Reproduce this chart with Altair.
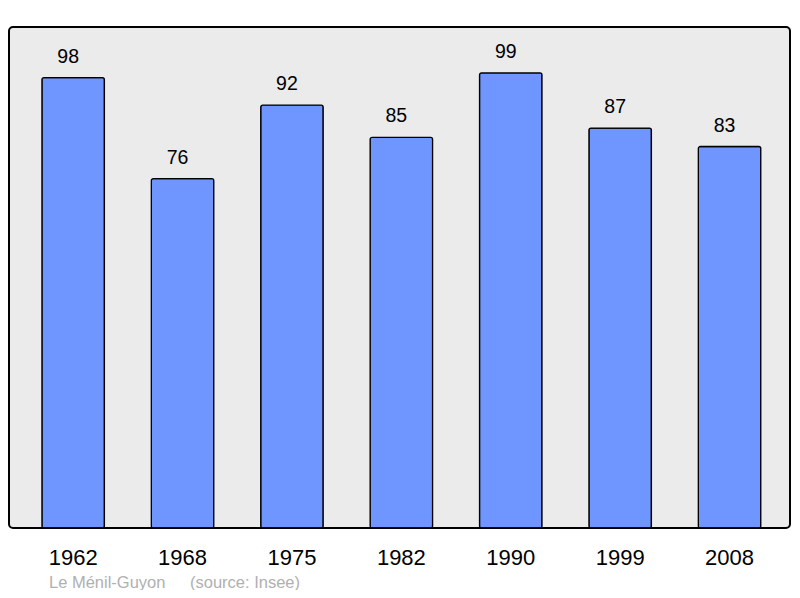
import altair as alt
import pandas as pd

years = ["1962", "1968", "1975", "1982", "1990", "1999", "2008"]
population = [98, 76, 92, 85, 99, 87, 83]
place = "Le Ménil-Guyon"
source = "(source: Insee)"

df = pd.DataFrame({"year": years, "pop": population})

x = alt.X("year:N", sort=years, title=None,
          scale=alt.Scale(paddingInner=0.429, paddingOuter=0.284, align=0.53),
          axis=alt.Axis(labelAngle=0, domain=False, ticks=False, tickSize=0, labelFontSize=22,
                        labelFont="Liberation Sans", labelColor="#000000",
                        labelBaseline="alphabetic", labelPadding=36))
y = alt.Y("pop:Q", title=None, scale=alt.Scale(domain=[0, 109], nice=False, zero=True),
          axis=None)

bars = alt.Chart(df).mark_bar(color="#6f96ff", stroke="#000000", strokeWidth=1.3,
                              cornerRadius=2).encode(x=x, y=y)
labels = alt.Chart(df).mark_text(dy=-15, dx=-5, baseline="alphabetic", fontSize=19.5,
                                 font="Liberation Sans", color="#000000").encode(
    x=x, y=y, text="pop:Q")
foot1 = alt.Chart(pd.DataFrame({"t": [place]})).mark_text(
    align="left", baseline="alphabetic", fontSize=16.5, font="Liberation Sans", color="#b0b0b0"
).encode(x=alt.value(40), y=alt.value(561), text="t:N")
foot2 = alt.Chart(pd.DataFrame({"t": [source]})).mark_text(
    align="left", baseline="alphabetic", fontSize=16.5, font="Liberation Sans", color="#b0b0b0"
).encode(x=alt.value(181), y=alt.value(561), text="t:N")

chart = alt.layer(bars, labels, foot1, foot2).properties(
    width=781, height=501,
    autosize=alt.AutoSizeParams(type="none"),
    padding={"left": 1, "top": 19, "right": 2, "bottom": 62},
    background="#ffffff",
).configure_view(fill="#ebebeb", stroke="#000000", strokeWidth=2, cornerRadius=4)

chart.save("out.html", embed_options={"renderer": "svg", "actions": False})
